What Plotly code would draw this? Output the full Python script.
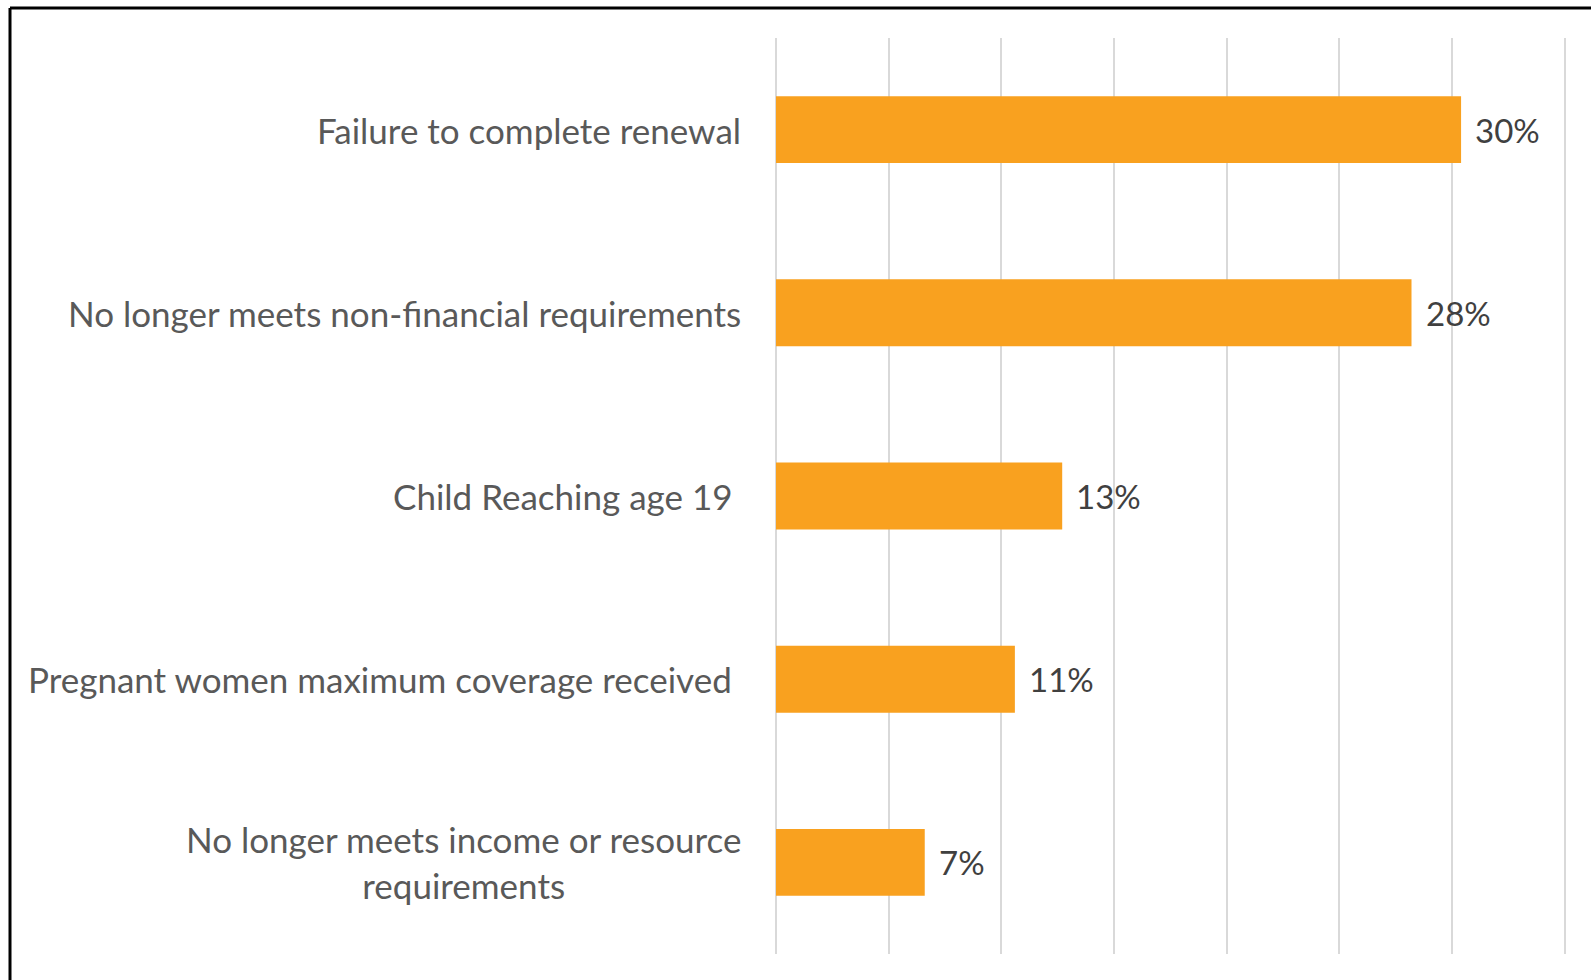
import plotly.graph_objects as go

categories = [
    "Failure to complete renewal",
    "No longer meets non-financial requirements",
    "Child Reaching age 19\u00a0",
    "Pregnant women maximum coverage received\u00a0",
    "No longer meets income or resource<br>requirements",
]
values = [30.4, 28.2, 12.7, 10.6, 6.6]
x_ticks = [0, 5, 10, 15, 20, 25, 30, 35]
x_max = 35.1

W, H = 1591, 980
ML, MT, MB = 776, 38, 26
PW = round(789 * x_max / 35)
MR = W - ML - PW
PH = H - MT - MB

BAR = "#F9A11F"
FONT = "Lato"

fig = go.Figure(go.Bar(
    x=values, y=categories, orientation="h",
    marker=dict(color=BAR, line=dict(width=0)),
    hoverinfo="skip",
))

ann = []
for c, v in zip(categories, values):
    ann.append(dict(x=0, xref="paper", y=c, yref="y", text=c, showarrow=False,
                    xanchor="right", yanchor="middle", xshift=-33, align="center",
                    font=dict(family=FONT, size=35, color="#595959")))
    ann.append(dict(x=v, xref="x", y=c, yref="y", text=f"{round(v)}%", showarrow=False,
                    xanchor="left", yanchor="middle", xshift=12,
                    font=dict(family=FONT, size=33, color="#404040")))

# frame (top and left border)
x_left = (10 - ML) / PW
y_top = (H - MB - 8) / PH
shapes = [
    dict(type="line", xref="paper", yref="paper", x0=x_left, x1=(W + 10 - ML) / PW,
         y0=y_top, y1=y_top, line=dict(color="black", width=3)),
    dict(type="line", xref="paper", yref="paper", x0=x_left, x1=x_left,
         y0=y_top, y1=(-MB - 20) / PH, line=dict(color="black", width=3)),
]

fig.update_layout(
    width=W, height=H,
    margin=dict(l=ML, r=MR, t=MT, b=MB),
    paper_bgcolor="white", plot_bgcolor="white",
    bargap=0.635,
    showlegend=False,
    annotations=ann,
    shapes=shapes,
    xaxis=dict(range=[0, x_max], tickvals=x_ticks, showticklabels=False,
               showgrid=True, gridcolor="#D9D9D9", gridwidth=1.5,
               zeroline=True, zerolinecolor="#D9D9D9", zerolinewidth=1.5,
               showline=False, fixedrange=True),
    yaxis=dict(categoryorder="array", categoryarray=categories, autorange="reversed",
               showticklabels=False, showgrid=False, zeroline=False, showline=False),
)

fig.write_html("out.html", config={"displayModeBar": False})
